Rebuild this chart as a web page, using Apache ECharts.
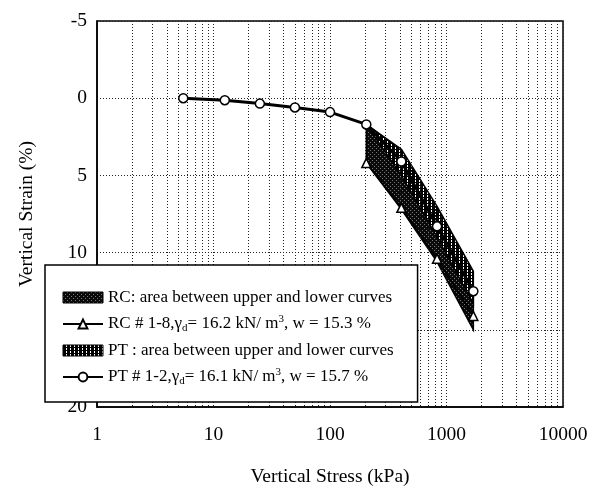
<!DOCTYPE html>
<html>
<head>
<meta charset="utf-8">
<script src="https://cdn.jsdelivr.net/npm/echarts@6/dist/echarts.min.js"></script>
<style>html,body{margin:0;padding:0;background:#fff}#c{width:595px;height:492px}</style>
</head>
<body>
<div id="c"></div>
<script>
// ---- data ----
const ptStress = [5.5, 12.5, 25, 50, 100, 205, 410, 830, 1700];
const ptStrain = [0, 0.13, 0.35, 0.6, 0.9, 1.7, 4.1, 8.3, 12.5];
const rcStress = [205, 410, 830, 1700];
const rcStrain = [4.2, 7.1, 10.4, 14.1];
const bandStress = [205, 410, 830, 1700];
const rcUpper = [1.7, 3.4, 7.3, 12.3];
const rcLower = [4.2, 7.2, 10.6, 15.0];
const ptUpper = [1.7, 3.3, 7.0, 11.2];
const ptLower = [1.7, 5.0, 9.0, 13.3];
const xTickLabels = [1, 10, 100, 1000, 10000];
const yTickLabels = [-5, 0, 5, 10, 15, 20];
const minorGrid = [2,3,4,5,6,7,8,9,20,30,40,50,60,70,80,90,200,300,400,500,600,700,800,900,2000,3000,4000,5000,6000,7000,8000,9000];

const FONT = '"Liberation Serif", "Times New Roman", serif';

function makePattern(kind) {
  const c = document.createElement('canvas');
  if (kind === 'rc') {
    c.width = 4; c.height = 4;
    const g = c.getContext('2d');
    g.fillStyle = '#0a0a0a'; g.fillRect(0, 0, 4, 4);
    g.fillStyle = '#777';
    g.fillRect(0, 0, 1, 1); g.fillRect(2, 2, 1, 1);
  } else {
    c.width = 4; c.height = 3;
    const g = c.getContext('2d');
    g.fillStyle = '#000'; g.fillRect(0, 0, 4, 3);
    g.fillStyle = '#fff'; g.fillRect(3, 0, 1, 2);
  }
  return { image: c, repeat: 'repeat' };
}
const rcPattern = makePattern('rc');
const ptPattern = makePattern('pt');

function bandSeries(name, upper, lower, pattern, z) {
  return {
    name: name,
    type: 'custom',
    z: z,
    silent: true,
    data: [[bandStress[0], upper[0]]],
    renderItem: function (params, api) {
      const pts = [];
      for (let i = 0; i < bandStress.length; i++) pts.push(api.coord([bandStress[i], upper[i]]));
      for (let i = bandStress.length - 1; i >= 0; i--) pts.push(api.coord([bandStress[i], lower[i]]));
      return {
        type: 'polygon',
        shape: { points: pts },
        style: { fill: pattern, stroke: '#000', lineWidth: 1.5 }
      };
    },
    itemStyle: { color: pattern, borderColor: '#000' }
  };
}

const names = {
  rcArea: 'RC: area between upper and lower curves',
  rcLine: 'RC # 1-8',
  ptArea: 'PT : area between upper and lower curves',
  ptLine: 'PT # 1-2'
};

const chart = echarts.init(document.getElementById('c'), null, { renderer: 'canvas' });
chart.setOption({
  animation: false,
  backgroundColor: '#fff',
  grid: { left: 97, right: 32, top: 21, bottom: 85, show: true, borderColor: '#000', borderWidth: 1.5, backgroundColor: 'transparent' },
  xAxis: {
    type: 'log', logBase: 10, min: xTickLabels[0], max: xTickLabels[xTickLabels.length - 1],
    name: 'Vertical Stress (kPa)', nameLocation: 'middle', nameGap: 60,
    nameTextStyle: { fontFamily: FONT, fontSize: 19.5, color: '#000' },
    axisLine: { onZero: false, lineStyle: { color: '#000', width: 1.5 } },
    axisTick: { show: false },
    axisLabel: { fontFamily: FONT, fontSize: 19.5, color: '#000', margin: 18, formatter: v => String(v) },
    splitLine: { show: true, lineStyle: { color: '#222', type: [1, 2], width: 1 } }
  },
  yAxis: {
    type: 'value', inverse: true, min: yTickLabels[0], max: yTickLabels[yTickLabels.length - 1], interval: 5,
    name: 'Vertical Strain (%)', nameLocation: 'middle', nameGap: 60,
    nameTextStyle: { fontFamily: FONT, fontSize: 19.5, color: '#000' },
    axisLine: { onZero: false, lineStyle: { color: '#000', width: 1.5 } },
    axisTick: { show: false },
    axisLabel: { fontFamily: FONT, fontSize: 19.5, color: '#000', margin: 10 },
    splitLine: { show: true, lineStyle: { color: '#222', type: [1, 2], width: 1 } }
  },
  legend: {
    orient: 'vertical', left: 45, top: 265, z: 20,
    backgroundColor: '#fff', borderColor: '#000', borderWidth: 1.5, borderRadius: 0,
    padding: [24, 24, 15, 17],
    itemWidth: 40, itemHeight: 11, itemGap: 8,
    textStyle: {
      fontFamily: FONT, fontSize: 17, color: '#000', lineHeight: 17,
      rich: {
        t: { fontFamily: FONT, fontSize: 17, color: '#000' },
        sub: { fontFamily: FONT, fontSize: 11, color: '#000', padding: [9, 0, 0, 0] },
        sup: { fontFamily: FONT, fontSize: 11, color: '#000', padding: [0, 0, 9, 0] }
      }
    },
    formatter: function (n) {
      if (n === names.rcLine) return '{t|RC # 1-8,γ}{sub|d}{t|= 16.2 kN/ m}{sup|3}{t|, w = 15.3 %}';
      if (n === names.ptLine) return '{t|PT # 1-2,γ}{sub|d}{t|= 16.1 kN/ m}{sup|3}{t|, w = 15.7 %}';
      return '{t|' + n + '}';
    },
    data: [
      { name: names.rcArea, icon: 'rect', itemStyle: { color: rcPattern, borderColor: '#000', borderWidth: 1 } },
      { name: names.rcLine },
      { name: names.ptArea, icon: 'rect', itemStyle: { color: ptPattern, borderColor: '#000', borderWidth: 1 } },
      { name: names.ptLine }
    ]
  },
  series: [
    {
      name: 'grid', type: 'line', data: [], silent: true, z: 1,
      markLine: {
        silent: true, symbol: ['none', 'none'], label: { show: false },
        lineStyle: { color: '#222', type: [1, 2], width: 1 },
        data: minorGrid.map(v => ({ xAxis: v }))
      }
    },
    bandSeries(names.rcArea, rcUpper, rcLower, rcPattern, 3),
    bandSeries(names.ptArea, ptUpper, ptLower, ptPattern, 4),
    {
      name: names.rcLine, type: 'line', z: 5,
      data: rcStress.map((x, i) => [x, rcStrain[i]]),
      symbol: 'triangle', symbolSize: 9,
      lineStyle: { color: '#000', width: 1.5 },
      itemStyle: { color: '#fff', borderColor: '#000', borderWidth: 1.5 }
    },
    {
      name: names.ptLine, type: 'line', z: 6,
      data: ptStress.map((x, i) => [x, ptStrain[i]]),
      symbol: 'circle', symbolSize: 9,
      lineStyle: { color: '#000', width: 3 },
      itemStyle: { color: '#fff', borderColor: '#000', borderWidth: 1.5 }
    }
  ]
});
</script>
</body>
</html>
